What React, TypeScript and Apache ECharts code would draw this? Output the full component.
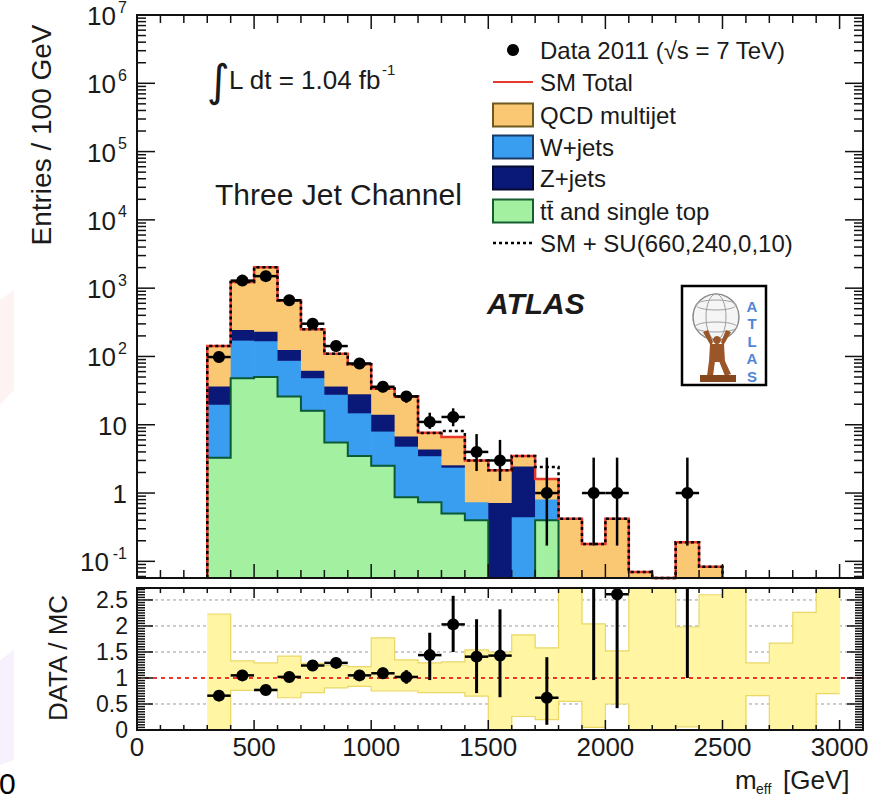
import React, { useEffect, useRef } from 'react';
import * as echarts from 'echarts';

// ---------------- data ----------------
// histogram bins: low edges, 100 GeV wide
const binLow = [300, 400, 500, 600, 700, 800, 900, 1000, 1100, 1200, 1300, 1400, 1500, 1600, 1700, 1800, 1900, 2000, 2100, 2200, 2300, 2400];
const ttbar = [3.3, 48, 50, 26, 16, 5.5, 3.5, 2.5, 0.87, 0.73, 0.5, 0.4, 0, 0, 0.4, 0, 0, 0, 0, 0, 0, 0];
const wjets = [16.7, 126, 120, 62, 33, 22.5, 11.5, 5.6, 4.0, 2.8, 1.9, 0.35, 0, 0.45, 0.42, 0, 0, 0, 0, 0, 0, 0];
const zjets = [17, 76, 65, 39, 14, 9, 13.5, 6.2, 2.0, 0.9, 0.2, 0, 0.73, 2.05, 0, 0, 0, 0, 0, 0, 0, 0];
const qcd = [105, 980, 1795, 538, 187, 73, 48.5, 19.7, 19.1, 3.2, 4.0, 2.25, 1.42, 1.0, 0.78, 0.42, 0.18, 0.42, 0.07, 0, 0.19, 0.083];
const smPlusSU = [142, 1230, 2030, 665, 250, 110, 77, 34, 26, 7.6, 8.1, 3.0, 2.15, 3.5, 2.4, 0.42, 0.18, 0.42, 0.07, 0, 0.19, 0.083];

// data points (bin centres)
const dataX = [350, 450, 550, 650, 750, 850, 950, 1050, 1150, 1250, 1350, 1450, 1550, 1750, 1950, 2050, 2350];
const dataN = [98, 1290, 1500, 665, 302, 142, 79, 36, 26, 11, 13, 4, 3, 1, 1, 1, 1];
const dataLo = [88, 1254, 1461, 639, 285, 130, 70, 30, 21, 8.7, 9.5, 2.1, 1.5, 0.17, 0.17, 0.17, 0.17];
const dataHi = [108, 1326, 1539, 691, 319, 154, 88, 42, 31, 15, 17.4, 7.3, 6.0, 3.3, 3.3, 3.3, 3.3];

// ratio panel
const ratioVal = [0.66, 1.05, 0.77, 1.02, 1.24, 1.29, 1.05, 1.09, 1.02, 1.44, 2.03, 1.41, 1.43, 0.62, 5.5, 2.61, 5.3];
const ratioLo = [0.62, 1.02, 0.74, 0.98, 1.17, 1.19, 0.97, 0.98, 0.89, 0.96, 1.5, 0.71, 0.63, 0.1, 0.96, 0.42, 1.0];
const ratioHi = [0.7, 1.08, 0.8, 1.06, 1.31, 1.39, 1.13, 1.2, 1.15, 1.87, 2.58, 2.13, 2.32, 1.4, 18, 6, 17];

// MC uncertainty band in ratio panel
const bandLow = [300, 400, 500, 600, 700, 800, 900, 1000, 1100, 1200, 1300, 1400, 1500, 1600, 1700, 1800, 1900, 2000, 2100, 2200, 2300, 2400, 2500, 2600, 2700, 2800, 2900];
const bandDown = [0, 0.76, 0.75, 0.62, 0.72, 0.81, 0.84, 0.75, 0.75, 0.72, 0.72, 0.65, 0, 0.26, 0.2, 0.55, 0.05, 0.5, 0, 0, 0.06, 0, 0, 0.66, 0, 0, 0.7];
const bandUp = [2.23, 1.33, 1.29, 1.42, 1.28, 1.24, 1.22, 1.77, 1.35, 1.29, 1.31, 1.54, 1.5, 1.83, 1.58, 3, 2.04, 1.52, 3, 3, 1.98, 2.6, 3, 1.29, 1.67, 2.26, 3];

// axis ticks / labels
const xMajorTicks = [0, 500, 1000, 1500, 2000, 2500, 3000];
const yMajorTicks = [0.1, 1, 10, 100, 1e3, 1e4, 1e5, 1e6, 1e7];
const yTickBase = ['10', '1', '10', '10', '10', '10', '10', '10', '10'];
const yTickSup = ['-1', '', '', '2', '3', '4', '5', '6', '7'];
const ratioMajorTicks = [0, 0.5, 1, 1.5, 2, 2.5];
const ratioGridLines = [0.5, 1.5, 2, 2.5];

// ---------------- styling ----------------
const FONT = '"Liberation Sans", Arial, Helvetica, sans-serif';
const TXT = '#1a1a1a';
const C_QCD = '#FAC872';
const C_W = '#3A9EF0';
const C_Z = '#0A1878';
const C_TT = '#A2F0A0';
const C_TT_LINE = '#0B5A34';
const C_BAND = '#FFF5A3';
const C_BAND_EDGE = '#EAD766';
const C_RED = '#E8382C';

const BIN = 100;
const XMAX = 3100;
const YMIN = 0.057;
const YMAX = 1e7;
const RMAX = 2.73;

const G1 = { left: 137, top: 15, width: 726, height: 563 };
const G2 = { left: 137, top: 588, width: 726, height: 142 };

const yMinorTicks: number[] = [];
for (let d = -2; d <= 6; d++) {
  for (let m = 2; m <= 9; m++) {
    const v = m * Math.pow(10, d);
    if (v > YMIN && v < YMAX) yMinorTicks.push(v);
  }
}
const xMinorTicks: number[] = [];
for (let k = 1; k <= 30; k++) if (k % 5 !== 0) xMinorTicks.push(k * 100);
const ratioMinorTicks: number[] = [];
for (let k = 1; k * 5 < RMAX * 100; k++) if (k % 10 !== 0) ratioMinorTicks.push(k * 0.05);

function yPix(api: any, cs: any, v: number) {
  const bottom = cs.y + cs.height;
  if (!(v > 0)) return bottom;
  const y = api.coord([0, v])[1];
  if (!isFinite(y)) return bottom;
  return Math.max(cs.y, Math.min(bottom, y));
}
function xPix(api: any, x: number, yref: number) {
  return api.coord([x, yref])[0];
}

function stepSeries(vals: number[], style: any, z: number) {
  return {
    type: 'custom',
    xAxisIndex: 0,
    yAxisIndex: 0,
    z,
    silent: true,
    data: [[0, 1, 0]],
    renderItem: (params: any, api: any) => {
      const cs = params.coordSys;
      const bottom = cs.y + cs.height;
      const pts: number[][] = [];
      pts.push([xPix(api, binLow[0], 1), bottom]);
      for (let i = 0; i < binLow.length; i++) {
        const y = vals[i] > YMIN ? yPix(api, cs, vals[i]) : bottom;
        pts.push([xPix(api, binLow[i], 1), y]);
        pts.push([xPix(api, binLow[i] + BIN, 1), y]);
      }
      pts.push([xPix(api, binLow[binLow.length - 1] + BIN, 1), bottom]);
      return { type: 'polyline', shape: { points: pts }, style: { fill: 'none', ...style } };
    },
  };
}

function tickSeries(xIdx: number, yIdx: number, items: any[], lens: any, yref: number) {
  return {
    type: 'custom',
    xAxisIndex: xIdx,
    yAxisIndex: yIdx,
    z: 10,
    silent: true,
    data: items,
    renderItem: (params: any, api: any) => {
      const cs = params.coordSys;
      const kind = api.value(2);
      const major = api.value(3) === 1;
      const k = api.value(4);
      const B = cs.y + cs.height;
      const R = cs.x + cs.width;
      const ls = { stroke: '#111', lineWidth: 1.5 };
      if (kind === 2) {
        return {
          type: 'rect',
          shape: { x: cs.x, y: cs.y, width: cs.width, height: cs.height },
          style: { fill: 'none', stroke: '#111', lineWidth: 2 },
        };
      }
      if (kind === 0) {
        const x = api.coord([api.value(0), yref])[0];
        const len = major ? lens.xMajor : lens.xMinor;
        return {
          type: 'group',
          children: [
            { type: 'line', shape: { x1: x, y1: B, x2: x, y2: B - len }, style: ls },
            { type: 'line', shape: { x1: x, y1: cs.y, x2: x, y2: cs.y + len }, style: ls },
          ],
        };
      }
      const y = api.coord([0, api.value(1)])[1];
      const len = major ? lens.yMajor : lens.yMinor;
      const children: any[] = [
        { type: 'line', shape: { x1: cs.x, y1: y, x2: cs.x + len, y2: y }, style: ls },
        { type: 'line', shape: { x1: R, y1: y, x2: R - len, y2: y }, style: ls },
      ];
      if (major && k >= 0) {
        const sup = yTickSup[k];
        const xr = 127;
        const supW = sup.length === 2 ? 18 : sup.length === 1 ? 11 : 0;
        children.push({
          type: 'text',
          x: xr - supW,
          y: y + 1,
          style: {
            text: yTickBase[k], fill: TXT, fontSize: 26, fontFamily: FONT,
            align: 'right', verticalAlign: 'middle', textAlign: 'right', textVerticalAlign: 'middle',
          },
        });
        if (sup) {
          children.push({
            type: 'text',
            x: xr,
            y: y - 8,
            style: {
              text: sup, fill: TXT, fontSize: 16, fontFamily: FONT,
              align: 'right', verticalAlign: 'middle', textAlign: 'right', textVerticalAlign: 'middle',
            },
          });
        }
      }
      return { type: 'group', children };
    },
  };
}

function txt(text: string, x: number, y: number, size: number, extra: any = {}, el: any = {}) {
  return {
    type: 'text',
    x,
    y,
    z: 20,
    ...el,
    style: {
      text, fill: TXT, fontSize: size, fontFamily: FONT,
      align: 'left', verticalAlign: 'middle', textAlign: 'left', textVerticalAlign: 'middle',
      ...extra,
    },
  };
}

function buildOption() {
  const mainTicks: any[] = [];
  xMajorTicks.forEach((x) => mainTicks.push([x, 1, 0, 1, -1]));
  xMinorTicks.forEach((x) => mainTicks.push([x, 1, 0, 0, -1]));
  yMajorTicks.forEach((v, k) => mainTicks.push([0, v, 1, 1, k]));
  yMinorTicks.forEach((v) => mainTicks.push([0, v, 1, 0, -1]));
  mainTicks.push([0, 1, 2, 0, -1]);

  const ratioTicks: any[] = [];
  xMajorTicks.forEach((x) => ratioTicks.push([x, 1, 0, 1, -1]));
  xMinorTicks.forEach((x) => ratioTicks.push([x, 1, 0, 0, -1]));
  ratioMajorTicks.forEach((v) => ratioTicks.push([0, v, 1, 1, -1]));
  ratioMinorTicks.forEach((v) => ratioTicks.push([0, v, 1, 0, -1]));
  ratioTicks.push([0, 1, 2, 0, -1]);

  const totals = binLow.map((_, i) => ttbar[i] + wjets[i] + zjets[i] + qcd[i]);

  const legendY = [50, 82, 115, 147, 178, 211, 243];
  const LX = 493;
  const legendText = [
    'Data 2011 (\u221As = 7 TeV)',
    'SM Total',
    'QCD multijet',
    'W+jets',
    'Z+jets',
    'tt\u0304 and single top',
    'SM + SU(660,240,0,10)',
  ];

  const graphics: any[] = [
    // faint watermark remnants on the left edge
    { type: 'polygon', z: 0, shape: { points: [[0, 300], [14, 290], [14, 390], [0, 405]] }, style: { fill: 'rgba(245,190,190,0.18)' } },
    { type: 'polygon', z: 0, shape: { points: [[0, 660], [14, 650], [14, 760], [0, 765]] }, style: { fill: 'rgba(215,190,240,0.22)' } },
    // axis titles
    txt('Entries / 100 GeV', 41, 135, 28, { align: 'center', textAlign: 'center' }, { rotation: Math.PI / 2 }),
    txt('DATA / MC', 58, 658, 26, { align: 'center', textAlign: 'center' }, { rotation: Math.PI / 2 }),
    txt('m', 735, 780, 26),
    txt('eff', 756, 789, 14),
    txt('[GeV]', 783, 780, 26),
    txt('0', -1, 783, 30, { fill: '#000' }),
    // in-plot text
    txt('\u222B', 207, 80, 44, { fontFamily: '"DejaVu Sans", sans-serif' }),
    txt('L dt = 1.04 fb', 229, 80, 26),
    txt('-1', 382, 69, 15),
    txt('Three Jet Channel', 215, 194, 30),
    txt('ATLAS', 487, 303, 30, { fontWeight: 'bold', fontStyle: 'italic' }),
  ];
  // legend
  legendText.forEach((t, i) => graphics.push(txt(t, 540, legendY[i], 24)));
  graphics.push({ type: 'circle', z: 20, shape: { cx: LX + 20, cy: legendY[0], r: 6 }, style: { fill: '#000' } });
  graphics.push({ type: 'line', z: 20, shape: { x1: LX, y1: legendY[1], x2: LX + 40, y2: legendY[1] }, style: { stroke: C_RED, lineWidth: 2 } });
  const boxes = [
    [C_QCD, '#6E5A1E'],
    [C_W, '#1B3A66'],
    [C_Z, '#050A30'],
    [C_TT, '#155E30'],
  ];
  boxes.forEach((b, j) => {
    graphics.push({
      type: 'rect', z: 20,
      shape: { x: LX, y: legendY[j + 2] - 11.5, width: 40, height: 23 },
      style: { fill: b[0], stroke: b[1], lineWidth: 2 },
    });
  });
  graphics.push({ type: 'line', z: 20, shape: { x1: LX, y1: legendY[6], x2: LX + 40, y2: legendY[6] }, style: { stroke: '#000', lineWidth: 2.5, lineDash: [3, 3] } });

  // ATLAS logo
  graphics.push({ type: 'rect', z: 20, shape: { x: 682, y: 286, width: 84, height: 99 }, style: { fill: '#fff', stroke: '#000', lineWidth: 2.5 } });
  graphics.push({ type: 'circle', z: 21, shape: { cx: 716, cy: 317, r: 23 }, style: { fill: '#f5f5f5', stroke: '#8c8c8c', lineWidth: 1.5 } });
  graphics.push({ type: 'ellipse', z: 21, shape: { cx: 716, cy: 317, rx: 10, ry: 23 }, style: { fill: 'none', stroke: '#a0a0a0', lineWidth: 1 } });
  graphics.push({ type: 'ellipse', z: 21, shape: { cx: 716, cy: 305, rx: 20, ry: 5 }, style: { fill: 'none', stroke: '#a0a0a0', lineWidth: 1 } });
  graphics.push({ type: 'ellipse', z: 21, shape: { cx: 716, cy: 327, rx: 21, ry: 5 }, style: { fill: 'none', stroke: '#a0a0a0', lineWidth: 1 } });
  const brown = '#9A5528';
  graphics.push({ type: 'circle', z: 22, shape: { cx: 717, cy: 340, r: 4 }, style: { fill: brown } });
  graphics.push({ type: 'polygon', z: 22, shape: { points: [[703, 332], [708, 330], [713, 342], [711, 346]] }, style: { fill: brown } });
  graphics.push({ type: 'polygon', z: 22, shape: { points: [[731, 332], [726, 330], [721, 342], [723, 346]] }, style: { fill: brown } });
  graphics.push({ type: 'polygon', z: 22, shape: { points: [[710, 344], [724, 344], [725, 362], [709, 362]] }, style: { fill: brown } });
  graphics.push({ type: 'polygon', z: 22, shape: { points: [[709, 361], [715, 361], [713, 376], [707, 376]] }, style: { fill: brown } });
  graphics.push({ type: 'polygon', z: 22, shape: { points: [[719, 361], [725, 361], [731, 374], [725, 376]] }, style: { fill: brown } });
  graphics.push({ type: 'rect', z: 22, shape: { x: 700, y: 375, width: 36, height: 7 }, style: { fill: '#86471E' } });
  ['A', 'T', 'L', 'A', 'S'].forEach((c, i) => {
    graphics.push(txt(c, 752, 306 + i * 17.5, 15, { fill: '#4F86D9', fontWeight: 'bold', align: 'center', textAlign: 'center' }, { z: 23 }));
  });

  return {
    animation: false,
    backgroundColor: '#ffffff',
    grid: [
      { left: G1.left, top: G1.top, width: G1.width, height: G1.height, containLabel: false },
      { left: G2.left, top: G2.top, width: G2.width, height: G2.height, containLabel: false },
    ],
    xAxis: [
      {
        gridIndex: 0, type: 'value', min: 0, max: XMAX, interval: 500,
        axisLine: { show: false }, axisTick: { show: false }, axisLabel: { show: false }, splitLine: { show: false },
      },
      {
        gridIndex: 1, type: 'value', min: 0, max: XMAX, interval: 500,
        axisLine: { show: false }, axisTick: { show: false }, splitLine: { show: false },
        axisLabel: {
          show: true, fontSize: 26, fontFamily: FONT, color: TXT, margin: 4,
          formatter: (v: number) => (v % 500 === 0 && v <= 3000 ? String(v) : ''),
        },
      },
    ],
    yAxis: [
      {
        gridIndex: 0, type: 'log', logBase: 10, min: YMIN, max: YMAX,
        axisLine: { show: false }, axisTick: { show: false }, axisLabel: { show: false }, splitLine: { show: false },
      },
      {
        gridIndex: 1, type: 'value', min: 0, max: RMAX, interval: 0.5,
        axisLine: { show: false }, axisTick: { show: false }, splitLine: { show: false },
        axisLabel: {
          show: true, fontSize: 23, fontFamily: FONT, color: TXT, margin: 9,
          formatter: (v: number) => (Math.abs(v * 2 - Math.round(v * 2)) < 1e-6 && v <= 2.5 ? String(v) : ''),
        },
      },
    ],
    graphic: { elements: graphics },
    series: [
      // stacked histogram
      {
        type: 'custom', xAxisIndex: 0, yAxisIndex: 0, z: 2, silent: true,
        data: binLow.map((b, i) => [b, 1, i]),
        renderItem: (params: any, api: any) => {
          const i = api.value(2);
          const cs = params.coordSys;
          const x0 = xPix(api, binLow[i], 1);
          const x1 = xPix(api, binLow[i] + BIN, 1);
          const layers: any[] = [[ttbar[i], C_TT], [wjets[i], C_W], [zjets[i], C_Z], [qcd[i], C_QCD]];
          let cum = 0;
          const children: any[] = [];
          for (const [v, col] of layers) {
            if (!(v > 0)) continue;
            const yb = cum > YMIN ? yPix(api, cs, cum) : cs.y + cs.height;
            cum += v;
            const yt = cum > YMIN ? yPix(api, cs, cum) : cs.y + cs.height;
            if (yb - yt > 0.05) {
              children.push({ type: 'rect', shape: { x: x0, y: yt, width: x1 - x0 + 0.6, height: yb - yt + 0.6 }, style: { fill: col } });
            }
          }
          return { type: 'group', children };
        },
      },
      stepSeries(ttbar, { stroke: C_TT_LINE, lineWidth: 2 }, 3),
      stepSeries(totals, { stroke: C_RED, lineWidth: 2.5 }, 4),
      stepSeries(smPlusSU, { stroke: '#000', lineWidth: 2.5, lineDash: [3, 3] }, 5),
      // data points
      {
        type: 'custom', xAxisIndex: 0, yAxisIndex: 0, z: 6, silent: true,
        data: dataX.map((x, i) => [x, dataN[i], i]),
        renderItem: (params: any, api: any) => {
          const i = api.value(2);
          const cs = params.coordSys;
          const xc = xPix(api, dataX[i], 1);
          const xl = xPix(api, dataX[i] - BIN / 2, 1);
          const xr = xPix(api, dataX[i] + BIN / 2, 1);
          const y = yPix(api, cs, dataN[i]);
          const ylo = yPix(api, cs, dataLo[i]);
          const yhi = yPix(api, cs, dataHi[i]);
          const ls = { stroke: '#000', lineWidth: 2.5 };
          return {
            type: 'group',
            children: [
              { type: 'line', shape: { x1: xl, y1: y, x2: xr, y2: y }, style: ls },
              { type: 'line', shape: { x1: xc, y1: ylo, x2: xc, y2: yhi }, style: ls },
              { type: 'circle', shape: { cx: xc, cy: y, r: 6 }, style: { fill: '#000' } },
            ],
          };
        },
      },
      tickSeries(0, 0, mainTicks, { xMajor: 14, xMinor: 8, yMajor: 18, yMinor: 9 }, 1),
      // ratio: grey guide lines
      {
        type: 'custom', xAxisIndex: 1, yAxisIndex: 1, z: 1, silent: true,
        data: ratioGridLines.map((v) => [0, v]),
        renderItem: (params: any, api: any) => {
          const cs = params.coordSys;
          const y = api.coord([0, api.value(1)])[1];
          return { type: 'line', shape: { x1: cs.x, y1: y, x2: cs.x + cs.width, y2: y }, style: { stroke: '#9a9a9a', lineWidth: 1, lineDash: [3, 3] } };
        },
      },
      // ratio: uncertainty band
      {
        type: 'custom', xAxisIndex: 1, yAxisIndex: 1, z: 2, silent: true,
        data: bandLow.map((b, i) => [b, 1, i]),
        renderItem: (params: any, api: any) => {
          const i = api.value(2);
          const cs = params.coordSys;
          const B = cs.y + cs.height;
          const x0 = xPix(api, bandLow[i], 1);
          const x1 = xPix(api, bandLow[i] + BIN, 1);
          const clampR = (v: number) => Math.max(cs.y, Math.min(B, api.coord([0, v])[1]));
          const yt = clampR(bandUp[i]);
          const yb = clampR(bandDown[i]);
          return { type: 'rect', shape: { x: x0, y: yt, width: x1 - x0 + 0.6, height: yb - yt }, style: { fill: C_BAND } };
        },
      },
      {
        type: 'custom', xAxisIndex: 1, yAxisIndex: 1, z: 3, silent: true,
        data: [[0, 1]],
        renderItem: (params: any, api: any) => {
          const cs = params.coordSys;
          const B = cs.y + cs.height;
          const clampR = (v: number) => Math.max(cs.y, Math.min(B, api.coord([0, v])[1]));
          const up: number[][] = [];
          const dn: number[][] = [];
          for (let i = 0; i < bandLow.length; i++) {
            const x0 = xPix(api, bandLow[i], 1);
            const x1 = xPix(api, bandLow[i] + BIN, 1);
            up.push([x0, clampR(bandUp[i])], [x1, clampR(bandUp[i])]);
            dn.push([x0, clampR(bandDown[i])], [x1, clampR(bandDown[i])]);
          }
          const st = { fill: 'none', stroke: C_BAND_EDGE, lineWidth: 1.2 };
          return {
            type: 'group',
            children: [
              { type: 'polyline', shape: { points: up }, style: st },
              { type: 'polyline', shape: { points: dn }, style: st },
            ],
          };
        },
      },
      // ratio: unity line
      {
        type: 'custom', xAxisIndex: 1, yAxisIndex: 1, z: 4, silent: true,
        data: [[0, 1]],
        renderItem: (params: any, api: any) => {
          const cs = params.coordSys;
          const y = api.coord([0, 1])[1];
          return { type: 'line', shape: { x1: cs.x, y1: y, x2: cs.x + cs.width, y2: y }, style: { stroke: C_RED, lineWidth: 2, lineDash: [4, 4] } };
        },
      },
      // ratio: data points
      {
        type: 'custom', xAxisIndex: 1, yAxisIndex: 1, z: 6, silent: true,
        data: dataX.map((x, i) => [x, Math.min(ratioVal[i], RMAX), i]),
        renderItem: (params: any, api: any) => {
          const i = api.value(2);
          const cs = params.coordSys;
          const B = cs.y + cs.height;
          const clampR = (v: number) => Math.max(cs.y, Math.min(B, api.coord([0, v])[1]));
          const xc = xPix(api, dataX[i], 1);
          const xl = xPix(api, dataX[i] - BIN / 2, 1);
          const xr = xPix(api, dataX[i] + BIN / 2, 1);
          const ls = { stroke: '#000', lineWidth: 3 };
          const children: any[] = [
            { type: 'line', shape: { x1: xc, y1: clampR(ratioLo[i]), x2: xc, y2: clampR(ratioHi[i]) }, style: ls },
          ];
          if (ratioVal[i] >= 0 && ratioVal[i] <= RMAX) {
            const y = clampR(ratioVal[i]);
            children.push({ type: 'line', shape: { x1: xl, y1: y, x2: xr, y2: y }, style: { stroke: '#000', lineWidth: 2.5 } });
            children.push({ type: 'circle', shape: { cx: xc, cy: y, r: 6 }, style: { fill: '#000' } });
          }
          return { type: 'group', children };
        },
      },
      tickSeries(1, 1, ratioTicks, { xMajor: 10, xMinor: 5, yMajor: 16, yMinor: 8 }, 1),
    ],
  };
}

export default function App() {
  const ref = useRef<HTMLDivElement>(null);
  useEffect(() => {
    if (!ref.current) return;
    const chart = echarts.init(ref.current, undefined, { renderer: 'svg' });
    chart.setOption(buildOption() as any);
    return () => {
      chart.dispose();
    };
  }, []);
  return (
    <div
      ref={ref}
      style={{ position: 'fixed', left: 0, top: 0, width: 872, height: 800, background: '#ffffff' }}
    />
  );
}
